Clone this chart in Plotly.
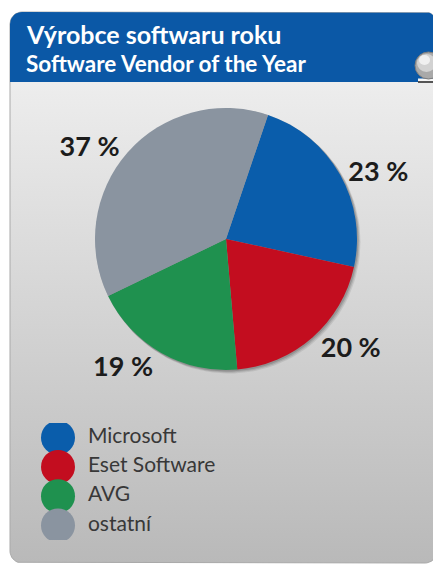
import numpy as np
import plotly.graph_objects as go

# the page body has an 8px default margin: lay out in reference pixels, shifted
OFF = 8
W, H = 441 - OFF, 567 - OFF

# ---- data ----
vendors = ["Microsoft", "Eset Software", "AVG", "ostatní"]
shares = [23, 20, 19, 37]
slice_colors = ["#0a5dab", "#c30d1f", "#1f914f", "#8a94a0"]
title_cz = "Výrobce softwaru roku"
title_en = "Software Vendor of the Year"


def px(x):
    return (x - OFF) / W


def py(y):
    return 1 - (y - OFF) / H


def rounded_poly(x0, y0, x1, y1, rt, rb, n=10):
    """polygon (reference pixel coords, y down) for a rounded rectangle"""
    xs, ys = [], []

    def arc(cx, cy, r, a0, a1):
        for a in np.linspace(a0, a1, n):
            xs.append(cx + r * np.cos(a))
            ys.append(cy + r * np.sin(a))
    arc(x0 + rt, y0 + rt, rt, np.pi, 1.5 * np.pi)
    arc(x1 - rt, y0 + rt, rt, 1.5 * np.pi, 2 * np.pi)
    arc(x1 - rb, y1 - rb, rb, 0, 0.5 * np.pi)
    arc(x0 + rb, y1 - rb, rb, 0.5 * np.pi, np.pi)
    xs.append(xs[0]); ys.append(ys[0])
    return xs, ys


fig = go.Figure()

# ---- card background (full-page helper axes x/y, drawn first) ----
bx, by = rounded_poly(10, 12, 437, 563, 12, 12)
fig.add_trace(go.Scatter(
    x=bx, y=by, xaxis="x", yaxis="y", mode="lines", fill="toself",
    line=dict(width=1, color="#a9a9a9"),
    fillgradient=dict(type="vertical", start=83, stop=563,
                      colorscale=[[0, "#ededed"], [1, "#b9b9b9"]]),
    hoverinfo="skip", showlegend=False))
hx, hy = rounded_poly(10, 12, 437, 82, 12, 0.01)
fig.add_trace(go.Scatter(
    x=hx, y=hy, xaxis="x", yaxis="y", mode="lines", fill="toself",
    fillcolor="#0b58a6", line=dict(width=0, color="rgba(0,0,0,0)"),
    hoverinfo="skip", showlegend=False))

# soft drop shadow behind the pie
PIE_X, PIE_Y = (95, 357), (108, 370)
t = np.linspace(0, 2 * np.pi, 120)
pcx, pcy = (PIE_X[0] + PIE_X[1]) / 2, (PIE_Y[0] + PIE_Y[1]) / 2
pr = (PIE_X[1] - PIE_X[0]) / 2
for d, a in [(3.0, 0.10), (2.0, 0.14), (1.0, 0.18)]:
    fig.add_trace(go.Scatter(
        x=pcx + d + (pr + 0.5) * np.cos(t), y=pcy + d + (pr + 0.5) * np.sin(t),
        xaxis="x", yaxis="y", mode="lines", fill="toself",
        fillcolor=f"rgba(40,40,40,{a})", line=dict(width=0, color="rgba(0,0,0,0)"),
        hoverinfo="skip", showlegend=False))

# ---- pie ----
fig.add_trace(go.Pie(
    labels=vendors, values=shares, sort=False, direction="clockwise",
    rotation=18.7,
    marker=dict(colors=slice_colors, line=dict(width=0)),
    textposition="outside", texttemplate="%{value} %",
    textfont=dict(family="Lato", size=27, color="#1c1c1c", weight="bold"),
    domain=dict(x=[px(PIE_X[0]), px(PIE_X[1])], y=[py(PIE_Y[1]), py(PIE_Y[0])]),
    showlegend=False, hoverinfo="label+percent"))

# ---- custom legend with large circles (x2/y2, drawn above the card) ----
idx = list(range(len(vendors)))
fig.add_trace(go.Scatter(
    x=[0] * len(vendors), y=idx, xaxis="x2", yaxis="y2", mode="markers",
    marker=dict(size=34, color=slice_colors, line=dict(width=0)),
    hoverinfo="skip", showlegend=False))
fig.add_trace(go.Scatter(
    x=[1.15] * len(vendors), y=idx, xaxis="x2", yaxis="y2", mode="text",
    text=vendors, textposition="middle right",
    textfont=dict(family="Lato", size=21, color="#383838"),
    hoverinfo="skip", showlegend=False))

# ---- decorations ----
shapes = [
    dict(type="line", xref="paper", yref="paper",
         x0=px(435.5), x1=px(435.5), y0=py(86), y1=py(556),
         line=dict(color="#1b63ae", width=3), layer="above"),
    dict(type="rect", xref="paper", yref="paper",
         x0=px(418), x1=px(441), y0=py(83), y1=py(81),
         fillcolor="#555555", line=dict(width=0), layer="above"),
    dict(type="rect", xref="paper", yref="paper",
         x0=px(418), x1=px(441), y0=py(81), y1=py(78.5),
         fillcolor="#f6f6f6", line=dict(width=0), layer="above"),
    dict(type="circle", xref="paper", yref="paper",
         x0=px(415), x1=px(442), y0=py(79), y1=py(52),
         fillcolor="#a9a9a9", line=dict(color="#7d7d7d", width=1), layer="above"),
    dict(type="circle", xref="paper", yref="paper",
         x0=px(417), x1=px(436), y0=py(72), y1=py(54),
         fillcolor="#d2d2d2", line=dict(width=0), layer="above"),
    dict(type="circle", xref="paper", yref="paper",
         x0=px(419), x1=px(430), y0=py(65), y1=py(55),
         fillcolor="#f0f0f0", line=dict(width=0), layer="above"),
]

annotations = [
    dict(text=title_cz, xref="paper", yref="paper", x=px(24), y=py(34),
         xanchor="left", yanchor="middle", showarrow=False,
         font=dict(family="Lato", size=25, color="white", weight="bold")),
    dict(text=title_en, xref="paper", yref="paper", x=px(24), y=py(64),
         xanchor="left", yanchor="middle", showarrow=False,
         font=dict(family="Lato", size=22.5, color="white", weight="bold")),
]

fig.update_layout(
    width=W, height=H, margin=dict(l=0, r=0, t=0, b=0),
    paper_bgcolor="white", plot_bgcolor="rgba(0,0,0,0)",
    shapes=shapes, annotations=annotations,
    xaxis=dict(domain=[0, 1], range=[OFF, OFF + W], visible=False,
               fixedrange=True, anchor="y"),
    yaxis=dict(domain=[0, 1], range=[OFF + H, OFF], visible=False,
               fixedrange=True, anchor="x"),
    xaxis2=dict(domain=[px(40), px(300)], range=[-18 / 26, 242 / 26],
                visible=False, fixedrange=True, anchor="y2"),
    yaxis2=dict(domain=[py(540), py(423)], range=[3.5, -0.5],
                visible=False, fixedrange=True, anchor="x2"),
    font=dict(family="Lato"),
)

fig.write_html("out.html")
